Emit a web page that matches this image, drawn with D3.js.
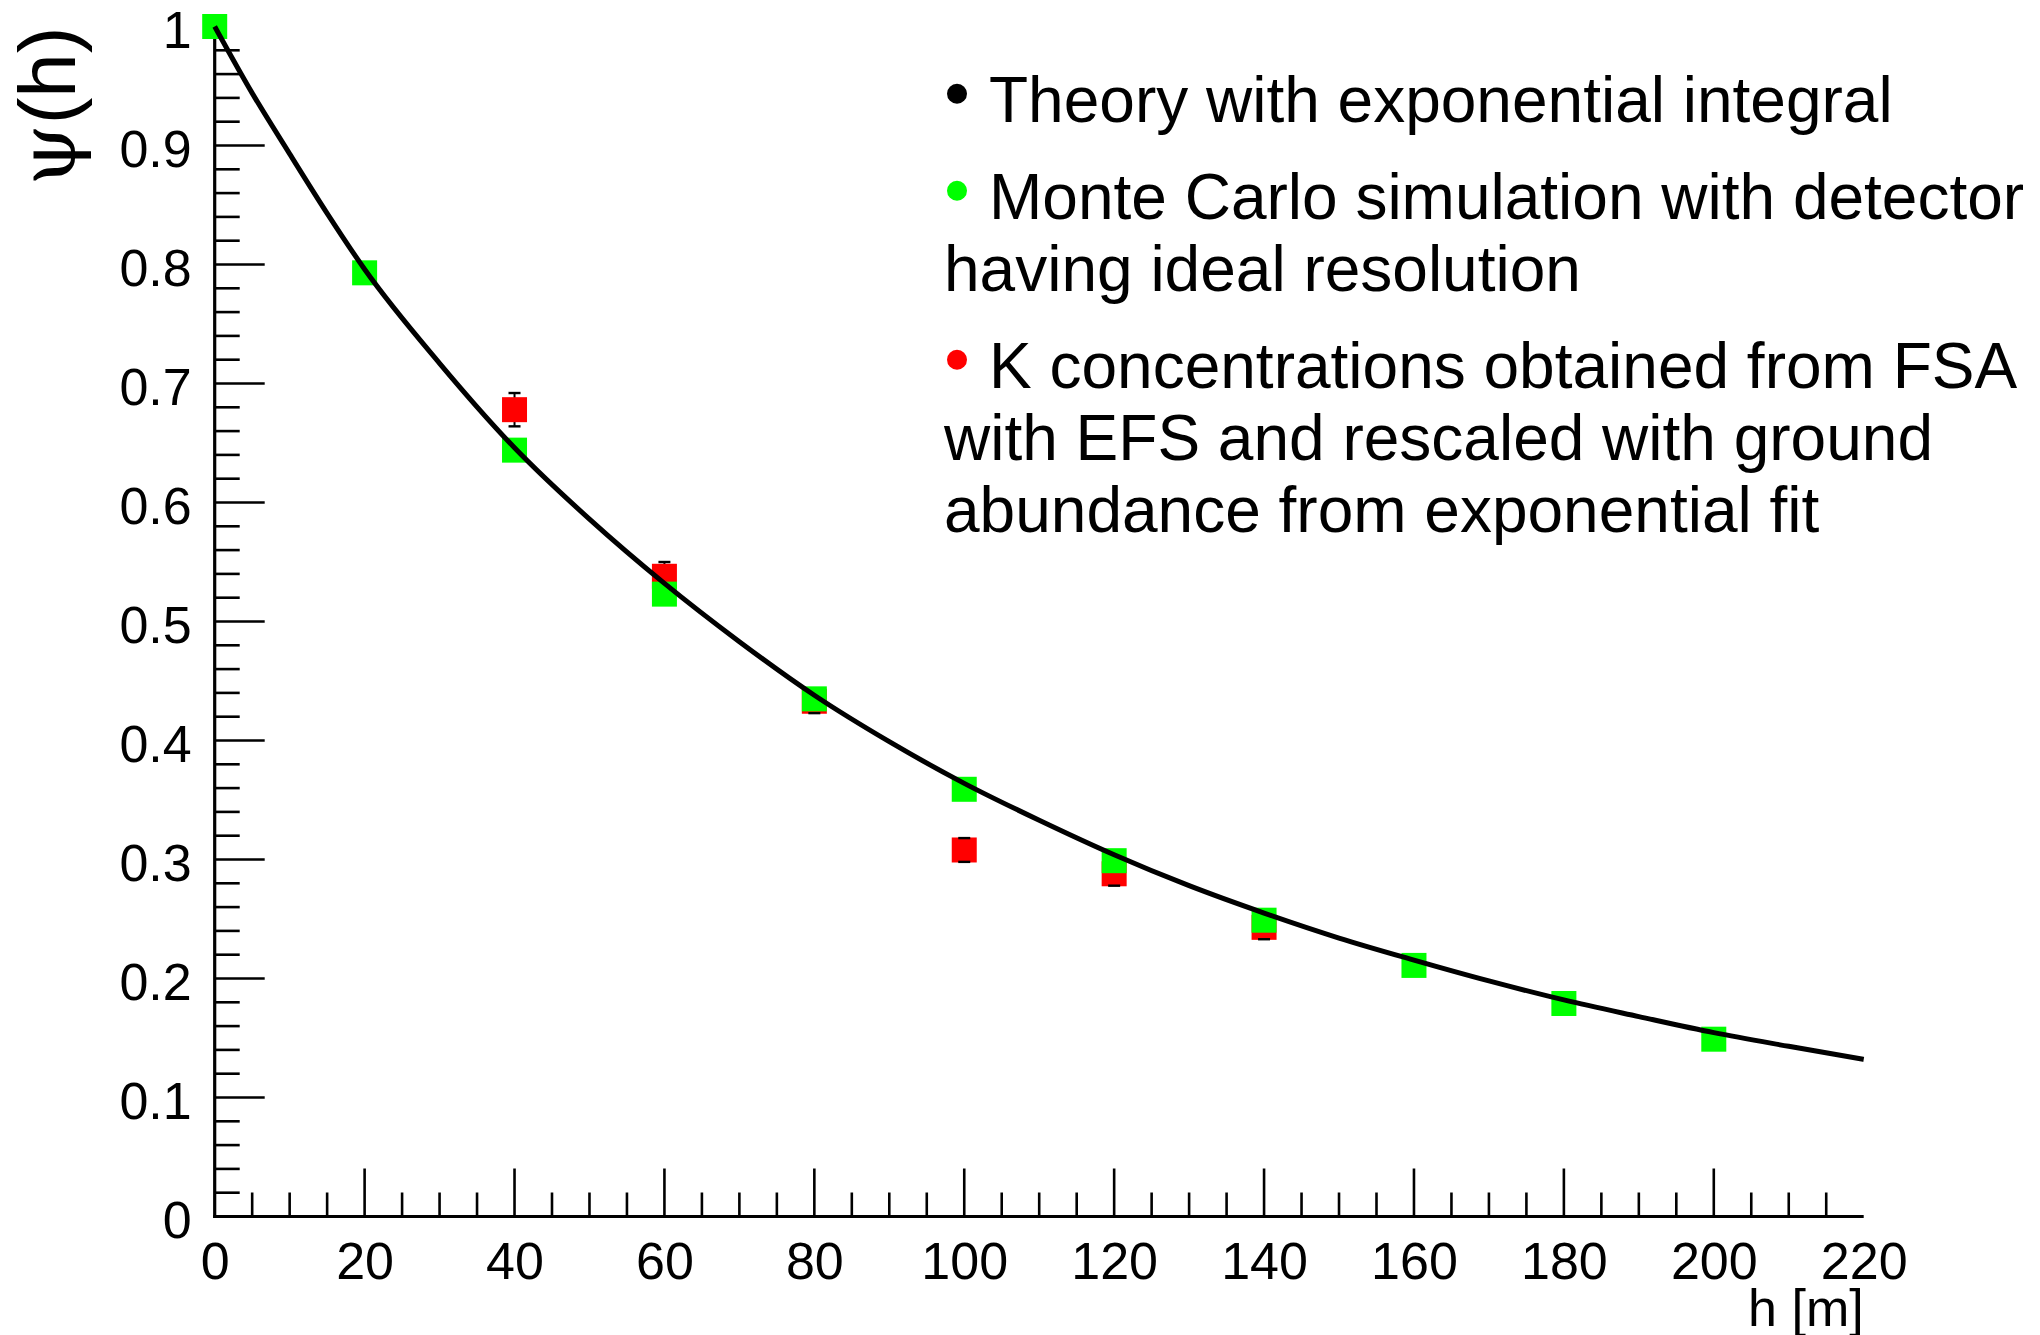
<!DOCTYPE html>
<html>
<head>
<meta charset="utf-8">
<script src="https://cdn.jsdelivr.net/npm/d3@7"></script>
<style>
  html, body { margin: 0; padding: 0; background: #fff; }
  svg { display: block; }
  text { font-family: "Liberation Sans", Arial, Helvetica, sans-serif; fill: #000; }
</style>
</head>
<body>
<svg id="chart" width="2040" height="1335"></svg>
<script>
// Height above ground h [m] and normalised count rate psi(h)

// Theory curve (exponential integral), sampled along h
const hTheory   = [0, 5, 10, 15, 20, 30, 40, 50, 60, 70, 80, 90, 100, 110, 120, 130, 140, 150, 160, 170, 180, 190, 200, 210, 220];
const psiTheory = [1.0, 0.944, 0.893, 0.843, 0.796, 0.717, 0.646, 0.586, 0.532, 0.483, 0.438, 0.399, 0.364, 0.333, 0.304, 0.278, 0.255, 0.234, 0.2155, 0.198, 0.182, 0.168, 0.1545, 0.143, 0.132];

// Monte Carlo simulation, ideal detector resolution
const hMC   = [0, 20, 40, 60, 80, 100, 120, 140, 160, 180, 200];
const psiMC = [1.0, 0.793, 0.644, 0.523, 0.435, 0.359, 0.299, 0.249, 0.211, 0.179, 0.149];

// K concentrations from FSA with EFS, rescaled with ground abundance
const hK   = [40, 60, 80, 100, 120, 140];
const psiK = [0.678, 0.538, 0.433, 0.308, 0.288, 0.243];
const errK = [0.014, 0.012, 0.010, 0.010, 0.010, 0.010];

// Axis ticks
const xMajor = [0, 20, 40, 60, 80, 100, 120, 140, 160, 180, 200, 220];
const yMajor = [0, 0.1, 0.2, 0.3, 0.4, 0.5, 0.6, 0.7, 0.8, 0.9, 1];

const xTitle = "h [m]";
const yTitle = ["ψ", "(h)"];

// Legend entries: bullet colour and wrapped text lines
const legendColors = ["#000000", "#00ff00", "#ff0000"];
const legendLines = [
  ["Theory with exponential integral"],
  ["Monte Carlo simulation with detector", "having ideal resolution"],
  ["K concentrations obtained from FSA", "with EFS and rescaled with ground", "abundance from exponential fit"]
];

// ---------------------------------------------------------------------------
const svg = d3.select("#chart");

const x = d3.scaleLinear().domain([0, 220]).range([214.7, 1863.7]);
const y = d3.scaleLinear().domain([0, 1]).range([1216.5, 26.5]);

const fmt = d3.format("~g");
const eps = 1e-9;
const isMajor = (v, arr) => arr.some(m => Math.abs(m - v) < eps);

// minor tick values (ends of the axes carry no tick)
const xMinor = d3.range(5, 220, 5).filter(v => !isMajor(v, xMajor));
const yMinor = d3.range(1, 50).map(i => +(i * 0.02).toFixed(4)).filter(v => !isMajor(v, yMajor));

// ---- X axis ----
const gx = svg.append("g").attr("transform", `translate(0,${y(0)})`);
gx.call(d3.axisBottom(x).tickValues(xMajor).tickSize(0).tickPadding(26).tickFormat(fmt))
  .call(g => g.select(".domain").remove())
  .call(g => g.selectAll("text").attr("font-size", 52).attr("font-family", "Liberation Sans, Arial, sans-serif"));
gx.selectAll("line.major").data(xMajor.filter(v => v > 0 && v < 220)).enter()
  .append("line").attr("class", "major")
  .attr("x1", d => x(d)).attr("x2", d => x(d)).attr("y1", 0).attr("y2", -48)
  .attr("stroke", "#000").attr("stroke-width", 2.6);
gx.selectAll("line.minor").data(xMinor).enter()
  .append("line").attr("class", "minor")
  .attr("x1", d => x(d)).attr("x2", d => x(d)).attr("y1", 0).attr("y2", -24)
  .attr("stroke", "#000").attr("stroke-width", 2.6);
gx.append("line").attr("x1", x(0) - 1.5).attr("x2", x(220)).attr("y1", 0).attr("y2", 0)
  .attr("stroke", "#000").attr("stroke-width", 3.2);

// ---- Y axis ----
const gy = svg.append("g").attr("transform", `translate(${x(0)},0)`);
gy.call(d3.axisLeft(y).tickValues(yMajor).tickSize(0).tickPadding(23).tickFormat(fmt))
  .call(g => g.select(".domain").remove())
  .call(g => g.selectAll("text").attr("font-size", 52).attr("dy", "0.4em").attr("font-family", "Liberation Sans, Arial, sans-serif"));
gy.selectAll("line.major").data(yMajor.filter(v => v > 0 && v < 1)).enter()
  .append("line").attr("class", "major")
  .attr("x1", 0).attr("x2", 50).attr("y1", d => y(d)).attr("y2", d => y(d))
  .attr("stroke", "#000").attr("stroke-width", 2.6);
gy.selectAll("line.minor").data(yMinor).enter()
  .append("line").attr("class", "minor")
  .attr("x1", 0).attr("x2", 25).attr("y1", d => y(d)).attr("y2", d => y(d))
  .attr("stroke", "#000").attr("stroke-width", 2.6);
gy.append("line").attr("x1", 0).attr("x2", 0).attr("y1", y(0) + 1.5).attr("y2", y(1))
  .attr("stroke", "#000").attr("stroke-width", 3.2);

// ---- Axis titles ----
svg.append("text")
  .attr("x", x(220)).attr("y", 1326)
  .attr("text-anchor", "end").attr("font-size", 52)
  .text(xTitle);

const yt = svg.append("text")
  .attr("transform", `translate(75,${y(1)}) rotate(-90)`)
  .attr("text-anchor", "end").attr("font-size", 80);
yt.append("tspan").attr("font-family", "DejaVu Serif, Liberation Serif, serif").attr("font-size", 78).text(yTitle[0]);
yt.append("tspan").text(yTitle[1]);

// ---- K points: error bar stems, markers, caps ----
const MS = 25; // marker side
const kData = hK.map((h, i) => ({ h, v: psiK[i], e: errK[i] }));
const gK = svg.append("g");
gK.selectAll("line.stem").data(kData).enter().append("line")
  .attr("x1", d => x(d.h)).attr("x2", d => x(d.h))
  .attr("y1", d => y(d.v + d.e)).attr("y2", d => y(d.v - d.e))
  .attr("stroke", "#000").attr("stroke-width", 2);
gK.selectAll("rect").data(kData).enter().append("rect")
  .attr("x", d => x(d.h) - MS / 2).attr("y", d => y(d.v) - MS / 2)
  .attr("width", MS).attr("height", MS).attr("fill", "#ff0000");
[1, -1].forEach(s => {
  gK.selectAll(null).data(kData).enter().append("line")
    .attr("x1", d => x(d.h) - 6).attr("x2", d => x(d.h) + 6)
    .attr("y1", d => y(d.v + s * d.e)).attr("y2", d => y(d.v + s * d.e))
    .attr("stroke", "#000").attr("stroke-width", 2.4);
});

// ---- Monte Carlo markers ----
svg.append("g").selectAll("rect").data(hMC.map((h, i) => ({ h, v: psiMC[i] }))).enter()
  .append("rect")
  .attr("x", d => x(d.h) - MS / 2).attr("y", d => y(d.v) - MS / 2)
  .attr("width", MS).attr("height", MS).attr("fill", "#00ff00");

// ---- Theory curve ----
const line = d3.line().x(d => x(d[0])).y(d => y(d[1])).curve(d3.curveMonotoneX);
svg.append("path")
  .datum(hTheory.map((h, i) => [h, psiTheory[i]]))
  .attr("d", line)
  .attr("fill", "none").attr("stroke", "#000").attr("stroke-width", 5);

// ---- Legend ----
const legX = 944, bulletX = 957, firstX = 989, lineGap = 72, entryGap = 97;
let baseY = 121.7;
const gl = svg.append("g");
legendLines.forEach((lines, i) => {
  gl.append("circle").attr("cx", bulletX).attr("cy", baseY - 28).attr("r", 10).attr("fill", legendColors[i]);
  lines.forEach((t, j) => {
    gl.append("text")
      .attr("x", j === 0 ? firstX : legX)
      .attr("y", baseY + j * lineGap)
      .attr("font-size", 64)
      .text(t);
  });
  baseY += (lines.length - 1) * lineGap + entryGap;
});
</script>
</body>
</html>
